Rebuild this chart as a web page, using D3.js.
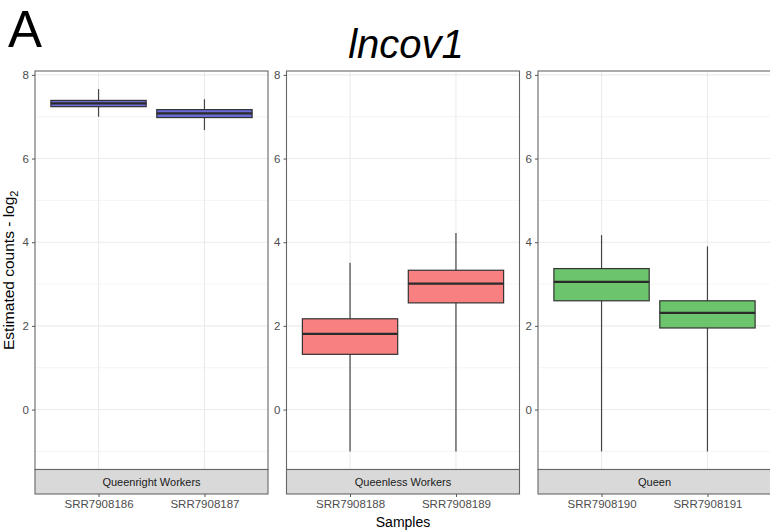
<!DOCTYPE html>
<html>
<head>
<meta charset="utf-8">
<script src="https://cdn.jsdelivr.net/npm/d3@7"></script>
<style>
  html, body { margin: 0; padding: 0; background: #fff; }
  svg { display: block; font-family: "Liberation Sans", Arial, sans-serif; }
</style>
</head>
<body>
<svg id="chart" width="770" height="532"></svg>
<script>
// ---- data ----
const groups = ["Queenright Workers", "Queenless Workers", "Queen"];
const samples = ["SRR7908186", "SRR7908187", "SRR7908188", "SRR7908189", "SRR7908190", "SRR7908191"];
const sampleGroup = [0, 0, 1, 1, 2, 2];
const whiskerLow  = [7.00, 6.68, -1.00, -1.00, -1.00, -1.00];
const q1          = [7.24, 6.98, 1.32, 2.55, 2.60, 1.95];
const medians     = [7.32, 7.08, 1.81, 3.01, 3.05, 2.31];
const q3          = [7.39, 7.17, 2.17, 3.33, 3.37, 2.60];
const whiskerHigh = [7.66, 7.42, 3.51, 4.22, 4.17, 3.90];
const yTicks = [0, 2, 4, 6, 8];
const yMinor = [-1, 1, 3, 5, 7];
const groupColors = ["#6b6bd8", "#f98080", "#6cc46c"];
const titleText = "lncov1";
const panelLetter = "A";
const yTitle = "Estimated counts - log";
const xTitle = "Samples";

// ---- layout ----
const svg = d3.select("#chart");
const panelTop = 71, panelBottom = 469.5, stripH = 24.5;
const panelW = 233, panelGap = 18.5, firstLeft = 35;

const y = d3.scaleLinear().domain([-1.433, 8.093]).range([panelBottom, panelTop]);

// titles
svg.append("text").attr("x", 8).attr("y", 47).attr("font-size", 51).attr("fill", "#000").text(panelLetter);
svg.append("text").attr("x", 406).attr("y", 58).attr("text-anchor", "middle")
  .attr("font-size", 40).attr("font-style", "italic").attr("fill", "#000").text(titleText);

const yt = svg.append("text").attr("transform", `translate(14,${(panelTop + panelBottom) / 2}) rotate(-90)`)
  .attr("text-anchor", "middle").attr("font-size", 15.5).attr("fill", "#000");
yt.append("tspan").text(yTitle);
yt.append("tspan").attr("font-size", 11).attr("dy", 4).text("2");

svg.append("text").attr("x", 403).attr("y", 527).attr("text-anchor", "middle")
  .attr("font-size", 14).attr("fill", "#000").text(xTitle);

groups.forEach((g, gi) => {
  const left = firstLeft + gi * (panelW + panelGap);
  const idx = samples.map((s, i) => i).filter(i => sampleGroup[i] === gi);
  const x = d3.scalePoint().domain(idx.map(i => samples[i])).range([left, left + panelW]).padding(0.6);
  const boxW = x.step() * 0.9;
  const p = svg.append("g");

  // gridlines
  p.selectAll(".gmin").data(yMinor).join("line")
    .attr("x1", left).attr("x2", left + panelW)
    .attr("y1", d => y(d)).attr("y2", d => y(d))
    .attr("stroke", "#f2f2f2").attr("stroke-width", 0.8);
  p.selectAll(".gmaj").data(yTicks).join("line")
    .attr("x1", left).attr("x2", left + panelW)
    .attr("y1", d => y(d)).attr("y2", d => y(d))
    .attr("stroke", "#ebebeb").attr("stroke-width", 1.1);
  p.selectAll(".gx").data(idx).join("line")
    .attr("x1", i => x(samples[i])).attr("x2", i => x(samples[i]))
    .attr("y1", panelTop).attr("y2", panelBottom)
    .attr("stroke", "#ebebeb").attr("stroke-width", 1.1);

  // boxes
  idx.forEach(i => {
    const cx = x(samples[i]);
    p.append("line").attr("x1", cx).attr("x2", cx)
      .attr("y1", y(whiskerHigh[i])).attr("y2", y(whiskerLow[i]))
      .attr("stroke", "#444").attr("stroke-width", 1.2);
    p.append("rect").attr("x", cx - boxW / 2).attr("width", boxW)
      .attr("y", y(q3[i])).attr("height", y(q1[i]) - y(q3[i]))
      .attr("fill", groupColors[gi]).attr("stroke", "#333").attr("stroke-width", 1.2);
    p.append("line").attr("x1", cx - boxW / 2).attr("x2", cx + boxW / 2)
      .attr("y1", y(medians[i])).attr("y2", y(medians[i]))
      .attr("stroke", "#2a2a2a").attr("stroke-width", 2.2);
  });

  // panel border
  p.append("rect").attr("x", left).attr("y", panelTop).attr("width", panelW).attr("height", panelBottom - panelTop)
    .attr("fill", "none").attr("stroke", "#666").attr("stroke-width", 1.1);

  // strip
  p.append("rect").attr("x", left).attr("y", panelBottom).attr("width", panelW).attr("height", stripH)
    .attr("fill", "#d9d9d9").attr("stroke", "#666").attr("stroke-width", 1.1);
  p.append("text").attr("x", left + panelW / 2).attr("y", panelBottom + stripH / 2 + 4)
    .attr("text-anchor", "middle").attr("font-size", 11).attr("fill", "#1a1a1a").text(g);

  // y axis
  const ya = p.append("g").attr("transform", `translate(${left},0)`)
    .call(d3.axisLeft(y).tickValues(yTicks).tickSize(3).tickPadding(3).tickFormat(d3.format("d")));
  ya.select(".domain").remove();
  ya.selectAll("line").attr("stroke", "#555");
  ya.selectAll("text").attr("font-size", 11.5).attr("fill", "#4d4d4d").attr("font-family", "Liberation Sans, Arial, sans-serif");

  // x axis
  const xa = p.append("g").attr("transform", `translate(0,${panelBottom + stripH})`)
    .call(d3.axisBottom(x).tickSize(3).tickPadding(3));
  xa.select(".domain").remove();
  xa.selectAll("line").attr("stroke", "#555");
  xa.selectAll("text").attr("font-size", 11.5).attr("fill", "#4d4d4d").attr("font-family", "Liberation Sans, Arial, sans-serif");
});
</script>
</body>
</html>
